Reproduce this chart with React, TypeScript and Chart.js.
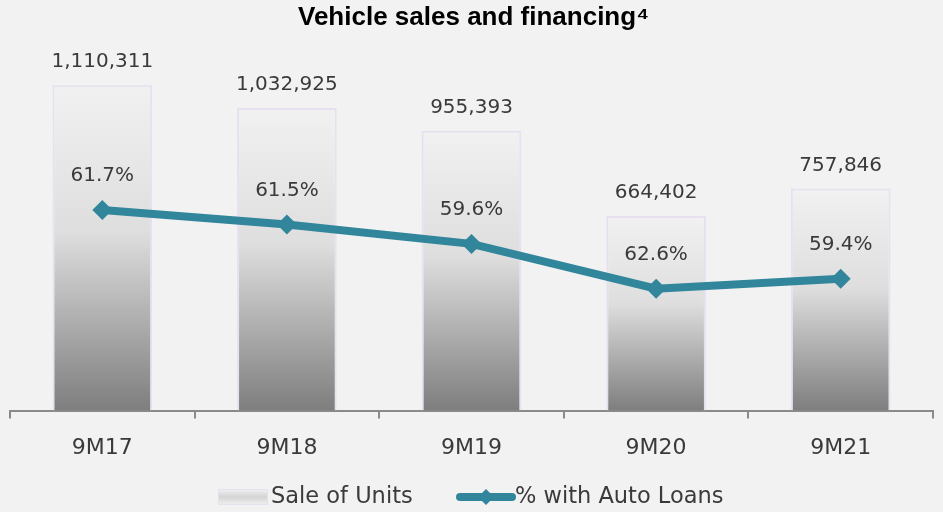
import React, { useEffect, useRef } from "react";
import { Chart, registerables } from "chart.js";

Chart.register(...registerables);

const categories = ["9M17", "9M18", "9M19", "9M20", "9M21"];
const unitsSold = [1110311, 1032925, 955393, 664402, 757846];
const unitsWithLoans = [685000, 635000, 569000, 416000, 450000];
const loanShareLabels = ["61.7%", "61.5%", "59.6%", "62.6%", "59.4%"];

const FONT = "'DejaVu Sans', sans-serif";
const TEXT = "#3a3a3a";
const TEAL = "#31869b";

const labelsPlugin = {
  id: "customLabels",
  afterDatasetsDraw(chart: any) {
    const ctx = chart.ctx;
    ctx.save();
    ctx.fillStyle = TEXT;
    ctx.font = `20px ${FONT}`;
    ctx.textAlign = "center";
    ctx.textBaseline = "middle";
    const barMeta = chart.getDatasetMeta(0);
    barMeta.data.forEach((el: any, i: number) => {
      ctx.fillText(unitsSold[i].toLocaleString("en-US"), el.x, el.y - 23);
    });
    const lineMeta = chart.getDatasetMeta(1);
    lineMeta.data.forEach((el: any, i: number) => {
      ctx.fillText(loanShareLabels[i], el.x, el.y - 34);
    });
    ctx.restore();
  },
};

const titleLegendPlugin = {
  id: "titleLegend",
  afterDraw(chart: any) {
    const ctx = chart.ctx;
    const w = chart.width;
    ctx.save();
    ctx.fillStyle = "#000";
    ctx.font = `bold 26px 'Liberation Sans', Arial, sans-serif`;
    ctx.textAlign = "center";
    ctx.textBaseline = "middle";
    ctx.fillText("Vehicle sales and financing\u2074", w / 2 + 2, 18);

    // legend
    const ly = 497;
    const sx = 218, sw = 50, sh = 16;
    const g = ctx.createLinearGradient(0, ly - sh / 2, 0, ly + sh / 2);
    g.addColorStop(0, "#f2f2f2");
    g.addColorStop(0.5, "#d4d4d4");
    g.addColorStop(1, "#f0f0f0");
    ctx.fillStyle = g;
    ctx.fillRect(sx, ly - sh / 2, sw, sh);
    ctx.strokeStyle = "#e6e0ef";
    ctx.lineWidth = 1;
    ctx.strokeRect(sx + 0.5, ly - sh / 2 + 0.5, sw - 1, sh - 1);
    ctx.fillStyle = TEXT;
    ctx.font = `22.5px ${FONT}`;
    ctx.textAlign = "left";
    ctx.fillText("Sale of Units", sx + sw + 3, ly);

    // line swatch
    const lx = 460, lw = 52;
    ctx.strokeStyle = TEAL;
    ctx.lineWidth = 8;
    ctx.lineCap = "round";
    ctx.beginPath();
    ctx.moveTo(lx, ly);
    ctx.lineTo(lx + lw, ly);
    ctx.stroke();
    ctx.fillStyle = TEAL;
    const cx = lx + lw / 2, r = 8;
    ctx.beginPath();
    ctx.moveTo(cx, ly - r);
    ctx.lineTo(cx + r, ly);
    ctx.lineTo(cx, ly + r);
    ctx.lineTo(cx - r, ly);
    ctx.closePath();
    ctx.fill();
    ctx.fillStyle = TEXT;
    ctx.fillText("% with Auto Loans", lx + lw + 3, ly);
    ctx.restore();
  },
};

export default function App() {
  const ref = useRef<HTMLCanvasElement>(null);
  useEffect(() => {
    if (!ref.current) return;
    const chart = new Chart(ref.current, {
      type: "bar",
      data: {
        labels: categories,
        datasets: [
          {
            type: "bar",
            label: "Sale of Units",
            data: unitsSold,
            order: 2,
            categoryPercentage: 0.54,
            barPercentage: 1,
            borderColor: "#e6e0ef",
            borderWidth: 2,
            backgroundColor: (c: any) => {
              const chart = c.chart;
              const area = chart.chartArea;
              if (!area || c.raw === undefined) return "#d9d9d9";
              const y = chart.scales.y;
              const top = y.getPixelForValue(c.raw);
              const bottom = y.getPixelForValue(0);
              const g = chart.ctx.createLinearGradient(0, top, 0, bottom);
              g.addColorStop(0, "#f1f1f1");
              g.addColorStop(0.45, "#dedede");
              g.addColorStop(1, "#7e7e7e");
              return g;
            },
          },
          {
            type: "line",
            label: "% with Auto Loans",
            data: unitsWithLoans,
            order: 1,
            borderColor: TEAL,
            backgroundColor: TEAL,
            borderWidth: 8,
            pointStyle: "rectRot",
            pointRadius: 10,
            pointBorderWidth: 0,
            pointBackgroundColor: TEAL,
            tension: 0,
          },
        ],
      },
      options: {
        animation: false,
        responsive: false,
        layout: { padding: { left: 9, right: 8, top: 59, bottom: 35 } },
        plugins: {
          legend: { display: false },
          title: { display: false },
          tooltip: { enabled: false },
        },
        scales: {
          x: {
            offset: true,
            grid: {
              offset: true,
              drawOnChartArea: false,
              drawTicks: true,
              tickLength: 8,
              color: "#8a8a8a",
              lineWidth: 2,
            },
            border: { color: "#8a8a8a", width: 2 },
            ticks: {
              color: TEXT,
              font: { family: FONT, size: 22 },
              padding: 16,
            },
          },
          y: {
            display: false,
            min: 0,
            max: 1200000,
          },
        },
      },
      plugins: [labelsPlugin, titleLegendPlugin],
    });
    return () => chart.destroy();
  }, []);
  return (
    <div
      style={{
        position: "fixed",
        left: 0,
        top: 0,
        width: 943,
        height: 512,
        background: "#f2f2f2",
      }}
    >
      <canvas ref={ref} width={943} height={512} style={{ display: "block" }} />
    </div>
  );
}
